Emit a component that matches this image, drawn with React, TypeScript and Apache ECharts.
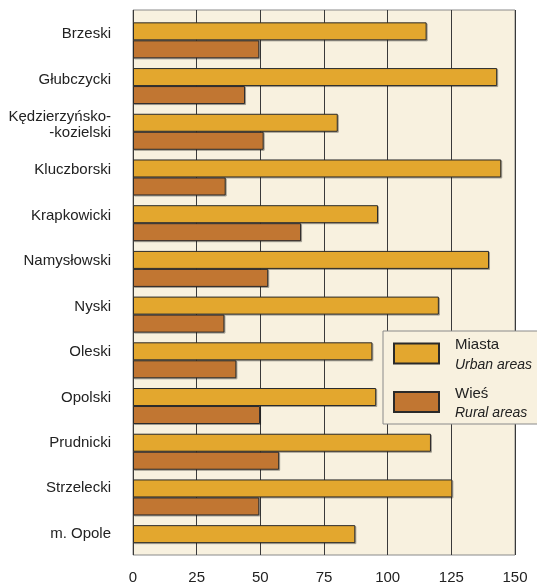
import React, { useEffect, useRef } from "react";
import * as echarts from "echarts";

const categories = [
  "Brzeski",
  "Głubczycki",
  "Kędzierzyńsko-\n-kozielski",
  "Kluczborski",
  "Krapkowicki",
  "Namysłowski",
  "Nyski",
  "Oleski",
  "Opolski",
  "Prudnicki",
  "Strzelecki",
  "m. Opole",
];
const urban = [115.3, 143, 80.4, 144.6, 96.2, 139.8, 120.1, 94, 95.5, 117, 125.4, 87.3];
const rural = [49.6, 44, 51.3, 36.4, 66, 53.1, 35.9, 40.6, 49.9, 57.4, 49.6, null];
const xTicks = { min: 0, max: 150, interval: 25 };
const seriesNames = ["Miasta", "Wieś"];
const seriesNamesEn: Record<string, string> = { Miasta: "Urban areas", "Wieś": "Rural areas" };

const FONT = "'Liberation Sans', Arial, sans-serif";

export default function App() {
  const ref = useRef<HTMLDivElement>(null);
  useEffect(() => {
    if (!ref.current) return;
    const chart = echarts.init(ref.current, undefined, { renderer: "svg" });
    const barStyle = (color: string) => ({
      color,
      borderColor: "#2a2a2a",
      borderWidth: 1,
      shadowColor: "rgba(0,0,0,0.35)",
      shadowOffsetX: 1,
      shadowOffsetY: 1,
      shadowBlur: 0,
    });
    chart.setOption({
      animation: false,
      textStyle: { fontFamily: FONT },
      grid: [
        { left: 133, right: 22, top: 17.5, bottom: 18 },
        {
          left: 133,
          right: 22,
          top: 10,
          bottom: 27,
          show: true,
          backgroundColor: "#F8F1DF",
          borderColor: "#8a8a8a",
          borderWidth: 1,
          z: 0,
        },
      ],
      xAxis: [
        { gridIndex: 0, type: "value", ...xTicks, show: false },
        {
          gridIndex: 1,
          type: "value",
          ...xTicks,
          axisLine: { show: false },
          axisTick: { show: false },
          splitLine: { show: true, lineStyle: { color: "#3a3a3a", width: 1 } },
          axisLabel: { color: "#222", fontSize: 15, margin: 14, fontFamily: FONT },
        },
      ],
      yAxis: [
        {
          gridIndex: 0,
          type: "category",
          data: categories,
          inverse: true,
          show: false,
        },
        {
          gridIndex: 1,
          type: "category",
          data: categories,
          inverse: true,
          axisLine: { show: false },
          axisTick: { show: false },
          splitLine: { show: false },
          axisLabel: {
            color: "#222",
            fontSize: 15,
            lineHeight: 16,
            margin: 22,
            align: "right",
            fontFamily: FONT,
          },
        },
      ],
      legend: {
        orient: "vertical",
        left: 383,
        top: 331,
        padding: [5, 40, 5, 10],
        itemGap: 14,
        itemWidth: 45,
        itemHeight: 20,
        icon: "rect",
        backgroundColor: "#F8F1DF",
        borderColor: "#8a8a8a",
        borderWidth: 1,
        data: seriesNames,
        formatter: (name: string) => `{a|${name}}\n{b|${seriesNamesEn[name]}}`,
        textStyle: {
          padding: [0, 0, 0, 11],
          rich: {
            a: { fontSize: 15, lineHeight: 20, color: "#222", fontFamily: FONT },
            b: { fontSize: 14, lineHeight: 20, color: "#222", fontStyle: "italic", fontFamily: FONT },
          },
        },
      },
      series: [
        {
          name: seriesNames[0],
          type: "bar",
          xAxisIndex: 0,
          yAxisIndex: 0,
          data: urban,
          barWidth: 18,
          barGap: "0%",
          itemStyle: barStyle("#E3A72F"),
          z: 3,
        },
        {
          name: seriesNames[1],
          type: "bar",
          xAxisIndex: 0,
          yAxisIndex: 0,
          data: rural,
          barWidth: 18,
          barGap: "0%",
          itemStyle: barStyle("#C17632"),
          z: 3,
        },
      ],
    });
    return () => chart.dispose();
  }, []);
  return (
    <div
      ref={ref}
      style={{ position: "fixed", left: 0, top: 0, width: 537, height: 584 }}
    />
  );
}
